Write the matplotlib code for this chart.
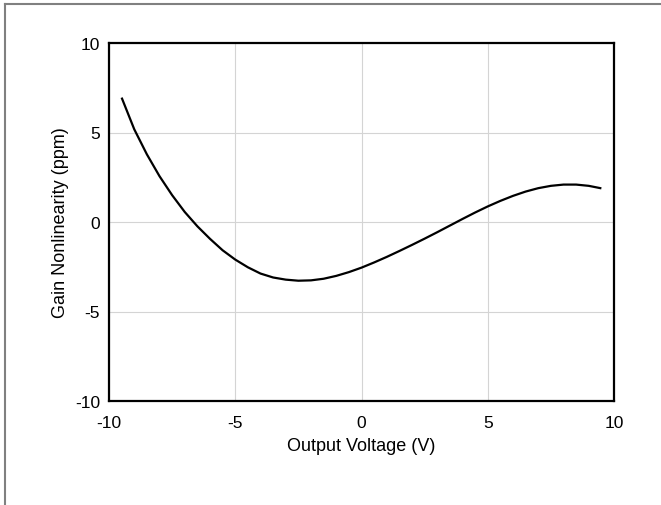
import matplotlib
matplotlib.use("Agg")
import matplotlib.pyplot as plt
from matplotlib.lines import Line2D

plt.rcParams['font.family'] = ['Liberation Sans', 'DejaVu Sans']
plt.rcParams['axes.unicode_minus'] = False

# Output voltage (V)
voltage = [-9.5, -9.0, -8.5, -8.0, -7.5, -7.0, -6.5, -6.0, -5.5, -5.0,
           -4.5, -4.0, -3.5, -3.0, -2.5, -2.0, -1.5, -1.0, -0.5, 0.0,
           0.5, 1.0, 1.5, 2.0, 2.5, 3.0, 3.5, 4.0, 4.5, 5.0,
           5.5, 6.0, 6.5, 7.0, 7.5, 8.0, 8.5, 9.0, 9.5]
# Gain nonlinearity (ppm)
nonlinearity = [6.95, 5.18, 3.78, 2.56, 1.50, 0.56, -0.24, -0.94, -1.58, -2.10,
                -2.53, -2.88, -3.10, -3.22, -3.28, -3.26, -3.17, -3.01, -2.80, -2.55,
                -2.26, -1.95, -1.62, -1.28, -0.93, -0.57, -0.20, 0.17, 0.53, 0.87,
                1.18, 1.46, 1.70, 1.89, 2.02, 2.09, 2.09, 2.02, 1.88]

xticks = [-10, -5, 0, 5, 10]
yticks = [-10, -5, 0, 5, 10]

W, H = 661, 506
fig = plt.figure(figsize=(W / 100, H / 100), dpi=100)
ax = fig.add_axes([109 / W, 1 - 402 / H, (614 - 109) / W, (402 - 44) / H])

ax.plot(voltage, nonlinearity, color='black', lw=1.6,
        solid_joinstyle='round', solid_capstyle='butt')
ax.set_xlim(-10, 10)
ax.set_ylim(-10, 10)
ax.set_xticks(xticks)
ax.set_yticks(yticks)
ax.grid(True, color='#d4d4d4', lw=0.8)
ax.set_axisbelow(True)
ax.tick_params(length=0, labelsize=12.5)
ax.tick_params(axis='x', pad=10)
ax.tick_params(axis='y', pad=6.5)
for s in ax.spines.values():
    s.set_linewidth(1.6)
    s.set_color('black')

ax.set_xlabel('Output Voltage (V)', fontsize=13, labelpad=5)
ax.set_ylabel('Gain Nonlinearity (ppm)', fontsize=13, labelpad=4)

# partial figure frame (top and left)
fig.add_artist(Line2D([5 / W, 5 / W], [0, 1 - 5 / H], transform=fig.transFigure,
                      color='#808080', lw=1.5))
fig.add_artist(Line2D([5 / W, 1], [1 - 5 / H, 1 - 5 / H], transform=fig.transFigure,
                      color='#808080', lw=1.5))

fig.savefig('out.png', dpi=100)
